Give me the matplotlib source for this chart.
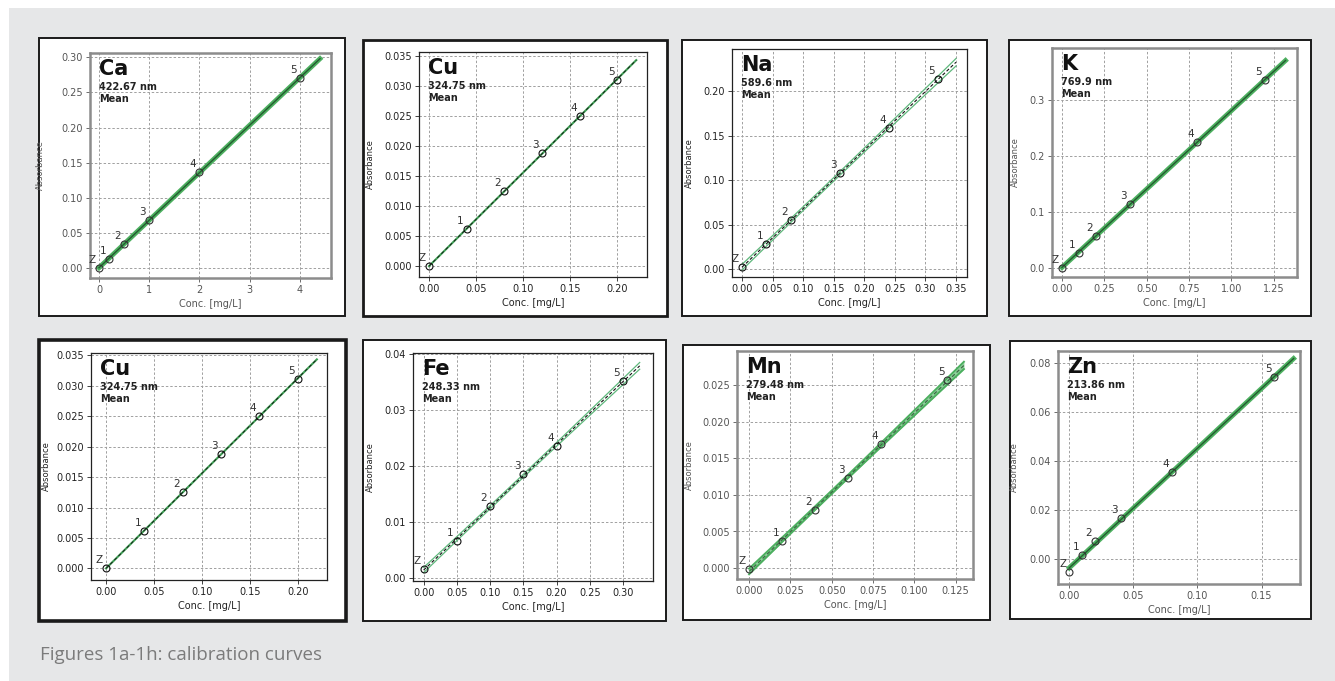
import numpy as np
import matplotlib
matplotlib.use("Agg")
import matplotlib.pyplot as plt
from matplotlib.patches import Rectangle
from matplotlib.ticker import MultipleLocator, FormatStrFormatter

W, H = 1335, 681

# Calibration data
names = ["Ca", "Cu", "Na", "K", "Cu", "Fe", "Mn", "Zn"]
wavelengths = ["422.67 nm", "324.75 nm", "589.6 nm", "769.9 nm",
               "324.75 nm", "248.33 nm", "279.48 nm", "213.86 nm"]

ca_conc = [0, 0.2, 0.5, 1, 2, 4]
ca_abs = [0.0, 0.013, 0.035, 0.069, 0.137, 0.270]
cu_conc = [0, 0.04, 0.08, 0.12, 0.16, 0.20]
cu_abs = [0.0, 0.0062, 0.0125, 0.0188, 0.0251, 0.0311]
na_conc = [0, 0.04, 0.08, 0.16, 0.24, 0.32]
na_abs = [0.003, 0.028, 0.055, 0.108, 0.159, 0.213]
k_conc = [0, 0.1, 0.2, 0.4, 0.8, 1.2]
k_abs = [0.0, 0.027, 0.057, 0.114, 0.225, 0.335]
fe_conc = [0, 0.05, 0.10, 0.15, 0.20, 0.30]
fe_abs = [0.0016, 0.0065, 0.0128, 0.0185, 0.0235, 0.0352]
mn_conc = [0, 0.02, 0.04, 0.06, 0.08, 0.12]
mn_abs = [-0.0001, 0.0037, 0.0080, 0.0123, 0.0170, 0.0257]
zn_conc = [0, 0.01, 0.02, 0.04, 0.08, 0.16]
zn_abs = [-0.0055, 0.0015, 0.0072, 0.0166, 0.0355, 0.0742]

point_labels = ["Z", "1", "2", "3", "4", "5"]

concs = [ca_conc, cu_conc, na_conc, k_conc, cu_conc, fe_conc, mn_conc, zn_conc]
absorbs = [ca_abs, cu_abs, na_abs, k_abs, cu_abs, fe_abs, mn_abs, zn_abs]
line_end = [4.4, 0.22, 0.35, 1.32, 0.22, 0.325, 0.13, 0.175]
band_end = [0.0015, 0.0002, 0.0042, 0.002, 0.0002, 0.0006, 0.0005, 0.0008]

xlims = [(-0.18, 4.62), (-0.0106, 0.2314), (-0.0163, 0.368), (-0.059, 1.388),
         (-0.0157, 0.2306), (-0.016, 0.345), (-0.0073, 0.1355), (-0.0088, 0.18)]
ylims = [(-0.014, 0.306), (-0.0018, 0.0357), (-0.0085, 0.247), (-0.0166, 0.392),
         (-0.0019, 0.0354), (-0.0006, 0.0402), (-0.0015, 0.0297), (-0.0103, 0.085)]
xsteps = [1, 0.05, 0.05, 0.25, 0.05, 0.05, 0.025, 0.05]
ysteps = [0.05, 0.005, 0.05, 0.1, 0.005, 0.01, 0.005, 0.02]
xfmts = ["%d", "%.2f", "%.2f", "%.2f", "%.2f", "%.2f", "%.3f", "%.2f"]
yfmts = ["%.2f", "%.3f", "%.2f", "%.1f", "%.3f", "%.2f", "%.3f", "%.2f"]

# layout in pixels (x0, y0, x1, y1) from top-left
boxes = [(39, 38, 345, 316), (363, 40, 667, 316), (682, 40, 987, 316), (1009, 40, 1311, 316),
         (39, 340, 346, 621), (363, 340, 666, 621), (683, 345, 990, 620), (1010, 341, 1311, 619)]
box_lw = [1.4, 2.0, 1.4, 1.4, 2.6, 1.4, 1.4, 1.4]
axes_px = [(90, 53, 331, 278), (419, 52, 647, 277), (732, 49, 967, 277), (1052, 48, 1297, 277),
           (91, 353, 327, 580), (413, 353, 653, 581), (737, 351, 973, 579), (1058, 351, 1300, 584)]
ylabel_px = [45, 375, 694, 1020, 51, 375, 694, 1019]
# scanned (blurry) panels versus crisp ones
blurry = [True, False, False, True, False, False, True, True]
banded = [False, False, True, False, False, True, True, False]


def px_rect(x0, y0, x1, y1):
    return [x0 / W, 1 - y1 / H, (x1 - x0) / W, (y1 - y0) / H]


fig = plt.figure(figsize=(W / 100, H / 100), dpi=100)
fig.patch.set_facecolor("white")

# grey page background
fig.patches.append(Rectangle((9 / W, 0), (W - 9) / W, (H - 8) / H, transform=fig.transFigure,
                             facecolor="#e6e7e8", edgecolor="none", zorder=-3))

for i in range(8):
    bx = boxes[i]
    fig.patches.append(Rectangle((bx[0] / W, 1 - bx[3] / H), (bx[2] - bx[0]) / W, (bx[3] - bx[1]) / H,
                                 transform=fig.transFigure, facecolor="white",
                                 edgecolor="#1a1a1a", lw=box_lw[i], zorder=-2))

    ax = fig.add_axes(px_rect(*axes_px[i]))
    x = np.array(concs[i], dtype=float)
    y = np.array(absorbs[i], dtype=float)

    txt_col = "#555555" if blurry[i] else "#222222"
    frame_col = "#8c8c8c" if blurry[i] else "#222222"

    ax.set_xlim(xlims[i])
    ax.set_ylim(ylims[i])
    ax.xaxis.set_major_locator(MultipleLocator(xsteps[i]))
    ax.yaxis.set_major_locator(MultipleLocator(ysteps[i]))
    ax.xaxis.set_major_formatter(FormatStrFormatter(xfmts[i]))
    ax.yaxis.set_major_formatter(FormatStrFormatter(yfmts[i]))
    ax.tick_params(labelsize=7, length=3, width=0.6, pad=2, colors=txt_col)
    ax.grid(True, color="#a0a0a0", ls=(0, (2.5, 2)), lw=0.7)
    ax.set_axisbelow(True)
    for sp in ax.spines.values():
        sp.set_color(frame_col)
        sp.set_linewidth(1.8 if blurry[i] else 0.9)

    # fitted line and confidence band
    slope, icpt = np.polyfit(x, y, 1)
    xs = np.linspace(0, line_end[i], 100)
    fit = slope * xs + icpt
    sxx = np.sum((x - x.mean()) ** 2)
    shape = np.sqrt(1 / len(x) + (xs - x.mean()) ** 2 / sxx)
    half = band_end[i] / shape[-1] * shape

    if blurry[i]:
        if banded[i]:
            ax.fill_between(xs, fit - half, fit + half, color="#8fd19c", lw=0, zorder=2)
            ax.plot(xs, fit - half, color="#4caf5f", lw=1.4, zorder=2)
            ax.plot(xs, fit + half, color="#4caf5f", lw=1.4, zorder=2)
            ax.plot(xs, fit, color="#3d6b45", lw=0.9, ls=(0, (3, 2)), zorder=3)
        else:
            ax.plot(xs, fit, color="#4caf5f", lw=3.5, zorder=2)
            ax.plot(xs, fit, color="#245c30", lw=1.0, zorder=3)
    else:
        if banded[i]:
            ax.plot(xs, fit - half, color="#5fb87c", lw=0.9, zorder=2)
            ax.plot(xs, fit + half, color="#5fb87c", lw=0.9, zorder=2)
            ax.plot(xs, fit, color="#111111", lw=0.8, ls=(0, (3, 2)), zorder=3)
        else:
            ax.plot(xs, fit, color="#3f9f55", lw=1.5, zorder=2)
            ax.plot(xs, fit, color="#111111", lw=0.6, ls=(0, (4, 3)), zorder=3)

    ax.plot(x, y, "o", ms=5, mfc="none", mec="#333333" if blurry[i] else "#111111",
            mew=0.8, zorder=4)
    for lab, xi, yi in zip(point_labels, x, y):
        ax.annotate(lab, (xi, yi), xytext=(-3, 3), textcoords="offset pixels",
                    ha="right", va="bottom", fontsize=7.5, color="#333333")

    # element name, wavelength and mode
    ax.annotate(names[i], (0, 1), xycoords="axes fraction", xytext=(9, -6),
                textcoords="offset pixels", ha="left", va="top",
                fontsize=15, fontweight="bold", color="#111111")
    ax.annotate(wavelengths[i], (0, 1), xycoords="axes fraction", xytext=(9, -29),
                textcoords="offset pixels", ha="left", va="top",
                fontsize=7, fontweight="bold", color="#222222")
    ax.annotate("Mean", (0, 1), xycoords="axes fraction", xytext=(9, -41),
                textcoords="offset pixels", ha="left", va="top",
                fontsize=7, fontweight="bold", color="#222222")

    ax0, ay0, ax1, ay1 = axes_px[i]
    ax.set_xlabel("Conc. [mg/L]", fontsize=7, color=txt_col, labelpad=3)
    ax.set_ylabel("Absorbance", fontsize=6, color=txt_col)
    ax.yaxis.set_label_coords((ylabel_px[i] - ax0) / (ax1 - ax0), 0.5)

fig.text(40 / W, 1 - 655 / H, "Figures 1a-1h: calibration curves", fontsize=13.5,
         color="#7b7b7b", family="Open Sans", va="center", ha="left")

fig.savefig("out.png", dpi=100)
